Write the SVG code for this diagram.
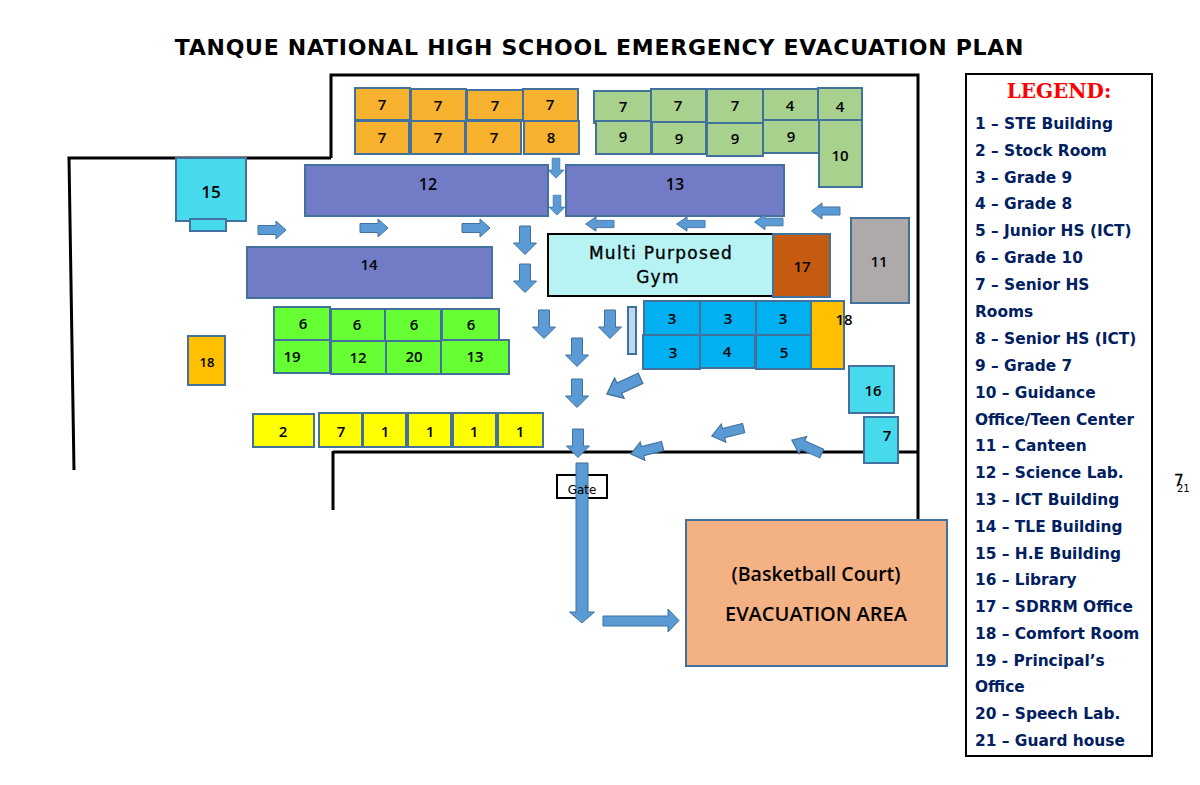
<svg xmlns="http://www.w3.org/2000/svg" width="1200" height="785" viewBox="0 0 1200 785">
<style>
text{font-family:"DejaVu Sans",sans-serif;fill:#000}
.b{stroke:#41719c;stroke-width:2}
.n{font-family:"Open Sans",sans-serif;font-size:15px;text-anchor:middle;font-weight:600}
.o{fill:#f6b22e}.g{fill:#a9d18e}.p{fill:#727cc6}.l{fill:#66ff33}.y{fill:#ffff00}.c{fill:#00b0f0}.t{fill:#47d9ec}.r{fill:#ffc000}
.w{fill:none;stroke:#000;stroke-width:3}
.a{fill:#5b9bd5;stroke:#41719c;stroke-width:1}
.lg{font-size:15.4px;font-weight:700;fill:#002060}
.m{font-size:17px;letter-spacing:1.3px;text-anchor:middle;stroke:#000;stroke-width:.35px}
</style>
<rect width="1200" height="785" fill="#fff"/>
<text x="599.500" y="55" text-anchor="middle" style="font-size:22px;font-weight:700;letter-spacing:.73px">TANQUE NATIONAL HIGH SCHOOL EMERGENCY EVACUATION PLAN</text>
<g id="walls">
<path class="w" d="M331 158V75H918V519"/>
<path class="w" d="M331 158H69L74 470"/>
<path class="w" d="M333 452H919"/>
<path class="w" d="M333 451V510"/>
</g>
<g id="orange-block">
<g id="o1"><rect class="b o" x="355" y="88" width="55" height="32"/><text class="n" x="382" y="110">7</text></g>
<g id="o2"><rect class="b o" x="411" y="89" width="55" height="32"/><text class="n" x="438" y="111">7</text></g>
<g id="o3"><rect class="b o" x="467" y="90" width="56" height="30"/><text class="n" x="495" y="111">7</text></g>
<g id="o4"><rect class="b o" x="523" y="89" width="55" height="32"/><text class="n" x="550" y="110">7</text></g>
<g id="o5"><rect class="b o" x="355" y="121" width="54" height="33"/><text class="n" x="382" y="143">7</text></g>
<g id="o6"><rect class="b o" x="411" y="121" width="54" height="33"/><text class="n" x="438" y="143">7</text></g>
<g id="o7"><rect class="b o" x="466" y="121" width="55" height="33"/><text class="n" x="494" y="143">7</text></g>
<g id="o8"><rect class="b o" x="524" y="121" width="55" height="33"/><text class="n" x="551" y="143">8</text></g>
</g>
<g id="green-block">
<g id="g1"><rect class="b g" x="594" y="91" width="57" height="32"/><text class="n" x="623" y="112">7</text></g>
<g id="g2"><rect class="b g" x="651" y="89" width="55" height="33"/><text class="n" x="678" y="111">7</text></g>
<g id="g3"><rect class="b g" x="707" y="89" width="56" height="34"/><text class="n" x="735" y="111">7</text></g>
<g id="g4"><rect class="b g" x="763" y="89" width="55" height="31"/><text class="n" x="790" y="111">4</text></g>
<g id="g5"><rect class="b g" x="818" y="88" width="44" height="33"/><text class="n" x="840" y="112">4</text></g>
<g id="g6"><rect class="b g" x="596" y="121" width="55" height="33"/><text class="n" x="623" y="142">9</text></g>
<g id="g7"><rect class="b g" x="652" y="122" width="54" height="32"/><text class="n" x="679" y="144">9</text></g>
<g id="g8"><rect class="b g" x="707" y="123" width="56" height="33"/><text class="n" x="735" y="144">9</text></g>
<g id="g9"><rect class="b g" x="763" y="120" width="56" height="33"/><text class="n" x="791" y="142">9</text></g>
<g id="g10"><rect class="b g" x="819" y="120" width="43" height="67"/><text class="n" x="840" y="161">10</text></g>
</g>
<g id="n12"><rect class="b p" x="305" y="165" width="243" height="51"/><text class="n" x="428" y="190" style="font-size:16px">12</text></g>
<g id="n13"><rect class="b p" x="566" y="165" width="218" height="51"/><text class="n" x="675" y="190" style="font-size:16px">13</text></g>
<g id="n14"><rect class="b p" x="247" y="247" width="245" height="51"/><text class="n" x="369" y="270">14</text></g>
<g id="n15"><rect class="b t" x="176" y="158" width="70" height="63"/><rect class="b t" x="190" y="219" width="36" height="12"/><text class="n" x="211" y="198" style="font-size:17px">15</text></g>
<g id="gym"><rect x="548" y="234" width="225" height="62" fill="#b7f3f3" stroke="#000" stroke-width="2"/><text class="m" x="661" y="259">Multi Purposed</text><text class="m" x="658" y="283">Gym</text></g>
<g id="n17"><rect class="b" fill="#c55a11" x="773" y="234" width="57" height="63"/><text class="n" x="802" y="272">17</text></g>
<g id="n11"><rect class="b" fill="#aeaaaa" x="851" y="218" width="58" height="85"/><text class="n" x="879" y="267">11</text></g>
<g id="light-green-block">
<g id="l1"><rect class="b l" x="274" y="307" width="56" height="33"/><text class="n" x="303" y="329">6</text></g>
<g id="l2"><rect class="b l" x="331" y="309" width="54" height="32"/><text class="n" x="357" y="330">6</text></g>
<g id="l3"><rect class="b l" x="385" y="309" width="56" height="32"/><text class="n" x="414" y="330">6</text></g>
<g id="l4"><rect class="b l" x="442" y="309" width="57" height="32"/><text class="n" x="471" y="330">6</text></g>
<g id="l5"><rect class="b l" x="274" y="340" width="56" height="33"/><text class="n" x="292" y="362">19</text></g>
<g id="l6"><rect class="b l" x="331" y="341" width="55" height="33"/><text class="n" x="358" y="363">12</text></g>
<g id="l7"><rect class="b l" x="386" y="341" width="55" height="33"/><text class="n" x="414" y="362">20</text></g>
<g id="l8"><rect class="b l" x="441" y="340" width="68" height="34"/><text class="n" x="475" y="362">13</text></g>
</g>
<g id="n18a"><rect class="b r" x="188" y="336" width="37" height="49"/><text class="n" x="207" y="367" style="font-size:13px">18</text></g>
<g id="yellow-block">
<g id="y1"><rect class="b y" x="253" y="414" width="61" height="33"/><text class="n" x="283" y="437">2</text></g>
<g id="y2"><rect class="b y" x="319" y="413" width="43" height="34"/><text class="n" x="341" y="437">7</text></g>
<g id="y3"><rect class="b y" x="363" y="413" width="43" height="34"/><text class="n" x="385" y="437">1</text></g>
<g id="y4"><rect class="b y" x="408" y="413" width="43" height="34"/><text class="n" x="430" y="437">1</text></g>
<g id="y5"><rect class="b y" x="453" y="413" width="43" height="34"/><text class="n" x="474" y="437">1</text></g>
<g id="y6"><rect class="b y" x="498" y="413" width="45" height="34"/><text class="n" x="520" y="437">1</text></g>
</g>
<g id="blue-block">
<g id="c1"><rect class="b c" x="644" y="301" width="56" height="34"/><text class="n" x="672" y="324">3</text></g>
<g id="c2"><rect class="b c" x="700" y="301" width="56" height="34"/><text class="n" x="728" y="324">3</text></g>
<g id="c3"><rect class="b c" x="756" y="301" width="55" height="34"/><text class="n" x="783" y="324">3</text></g>
<g id="c4"><rect class="b c" x="643" y="335" width="57" height="34"/><text class="n" x="673" y="358">3</text></g>
<g id="c5"><rect class="b c" x="700" y="335" width="55" height="33"/><text class="n" x="727" y="357">4</text></g>
<g id="c6"><rect class="b c" x="756" y="335" width="55" height="34"/><text class="n" x="784" y="358">5</text></g>
</g>
<g id="n18b"><rect class="b r" x="811" y="301" width="33" height="68"/><text class="n" x="844" y="325">18</text></g>
<g id="strip"><rect class="b" fill="#bdd7ee" x="628" y="307" width="8" height="47"/></g>
<g id="n16"><rect class="b t" x="849" y="366" width="45" height="47"/><text class="n" x="873" y="396">16</text></g>
<g id="n7"><rect class="b t" x="864" y="417" width="34" height="46"/><text class="n" x="887" y="441">7</text></g>
<g id="gate"><rect x="557" y="475" width="50" height="23" fill="#fff" stroke="#000" stroke-width="2"/></g>
<g id="evac"><rect class="b" fill="#f4b183" x="686" y="520" width="261" height="146"/><text x="816" y="581" text-anchor="middle" style="font-family:'Open Sans',sans-serif;font-size:19.600px;font-weight:600">(Basketball Court)</text><text x="816" y="621" text-anchor="middle" style="font-family:'Open Sans',sans-serif;font-size:20px;font-weight:600">EVACUATION AREA</text></g>
<g id="connectors">
<defs>
<path id="d" d="M-5.500-14H5.500V3H11.500L0 14.500L-11.500 3H-5.500Z"/>
<path id="r" d="M-14-4.500H4V-9L14 0L4 9V4.500H-14Z"/>
<path id="l" d="M14-4.500H-4V-9L-14.500 0L-4 9V4.500H14Z"/>
</defs>
<use href="#d" class="a" transform="translate(556 168) scale(.7 .7)"/>
<use href="#d" class="a" transform="translate(557 205) scale(.7 .7)"/>
<use href="#r" class="a" transform="translate(272 230)"/>
<use href="#r" class="a" transform="translate(374 228)"/>
<use href="#r" class="a" transform="translate(476 228)"/>
<use href="#d" class="a" transform="translate(525 240)"/>
<use href="#d" class="a" transform="translate(525 278)"/>
<use href="#l" class="a" transform="translate(600 224) scale(1 .8)"/>
<use href="#l" class="a" transform="translate(691 224) scale(1 .8)"/>
<use href="#l" class="a" transform="translate(769 222) scale(1 .85)"/>
<use href="#l" class="a" transform="translate(826 211) scale(1 .9)"/>
<use href="#d" class="a" transform="translate(544 324)"/>
<use href="#d" class="a" transform="translate(610 324)"/>
<use href="#d" class="a" transform="translate(577 352)"/>
<use href="#d" class="a" transform="translate(577 393)"/>
<use href="#d" class="a" transform="translate(578 443)"/>
<use href="#l" class="a" transform="translate(624 386) rotate(-25) scale(1.3 1.25)"/>
<use href="#l" class="a" transform="translate(728 432) rotate(-14) scale(1.15 1.05)"/>
<use href="#l" class="a" transform="translate(647 450) rotate(-14) scale(1.15 1.05)"/>
<use href="#l" class="a" transform="translate(807 447) rotate(24) scale(1.15 1.05)"/>
<path class="a" d="M576 463H588V612H594.500L582 623L569.500 612H576Z"/>
<path class="a" d="M603 616H668V609L679 620.500L668 632V626H603Z"/>
</g>
<g id="gate-label"><text x="582" y="494" text-anchor="middle" style="font-size:12px">Gate</text></g>
<g id="legend">
<rect x="966" y="74" width="186" height="682" fill="#fff" stroke="#000" stroke-width="2"/>
<text x="1059" y="98" text-anchor="middle" style="font-family:'DejaVu Serif',serif;font-size:20px;font-weight:700;fill:#f00">LEGEND:</text>
<text class="lg" x="975" y="129">1 – STE Building</text>
<text class="lg" x="975" y="156">2 – Stock Room</text>
<text class="lg" x="975" y="183">3 – Grade 9</text>
<text class="lg" x="975" y="209">4 – Grade 8</text>
<text class="lg" x="975" y="236">5 – Junior HS (ICT)</text>
<text class="lg" x="975" y="263">6 – Grade 10</text>
<text class="lg" x="975" y="290">7 – Senior HS</text>
<text class="lg" x="975" y="317">Rooms</text>
<text class="lg" x="975" y="344">8 – Senior HS (ICT)</text>
<text class="lg" x="975" y="371">9 – Grade 7</text>
<text class="lg" x="975" y="398">10 – Guidance</text>
<text class="lg" x="975" y="425">Office/Teen Center</text>
<text class="lg" x="975" y="451">11 – Canteen</text>
<text class="lg" x="975" y="478">12 – Science Lab.</text>
<text class="lg" x="975" y="505">13 – ICT Building</text>
<text class="lg" x="975" y="532">14 – TLE Building</text>
<text class="lg" x="975" y="559">15 – H.E Building</text>
<text class="lg" x="975" y="585">16 – Library</text>
<text class="lg" x="975" y="612">17 – SDRRM Office</text>
<text class="lg" x="975" y="639">18 – Comfort Room</text>
<text class="lg" x="975" y="666">19 - Principal’s</text>
<text class="lg" x="975" y="692">Office</text>
<text class="lg" x="975" y="719">20 – Speech Lab.</text>
<text class="lg" x="975" y="746">21 – Guard house</text>
</g>
<g id="stray"><text x="1174" y="486" style="font-size:15px;stroke:#000;stroke-width:.3px">7</text><text x="1177" y="492" style="font-size:10px">21</text></g>
</svg>
